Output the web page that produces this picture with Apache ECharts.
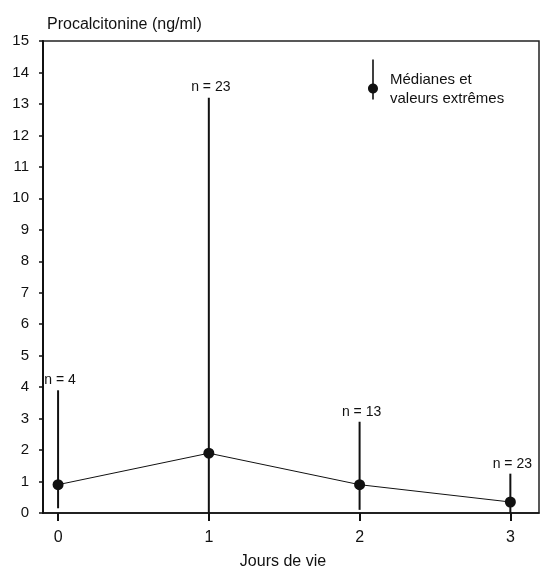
<!DOCTYPE html>
<html>
<head>
<meta charset="utf-8">
<script src="https://cdn.jsdelivr.net/npm/echarts@6/dist/echarts.min.js"></script>
<style>
  html, body { margin: 0; padding: 0; background: #fff; }
  #main { width: 541px; height: 571px; }
</style>
</head>
<body>
<div id="main"></div>
<script>
// Jours de vie et valeurs
const days = [0, 1, 2, 3];
const medians = [0.9, 1.9, 0.9, 0.35];
const minVals = [0.15, 0, 0.1, 0];
const maxVals = [3.9, 13.2, 2.9, 1.25];
const nLabels = ['n = 4', 'n = 23', 'n = 13', 'n = 23'];
const legendName = 'Médianes et\nvaleurs extrêmes';

const chart = echarts.init(document.getElementById('main'));

const font = 'Liberation Sans, Arial, sans-serif';

// barres médiane / extrêmes
const rangeData = days.map((d, i) => [d, minVals[i], maxVals[i]]);
const medianData = days.map((d, i) => [d, medians[i]]);

const option = {
  animation: false,
  textStyle: { fontFamily: font, color: '#111' },
  title: [
    {
      text: 'Procalcitonine (ng/ml)',
      left: 42, top: 12,
      textStyle: { fontSize: 16, fontWeight: 'normal', color: '#111', fontFamily: font }
    },
    {
      text: 'Jours de vie',
      left: 278, top: 549, textAlign: 'center',
      textStyle: { fontSize: 16, fontWeight: 'normal', color: '#111', fontFamily: font }
    }
  ],
  legend: {
    left: 368, top: 51, padding: 0,
    itemWidth: 10, itemHeight: 40,
    data: [{
      name: legendName,
      icon: 'path://M4.2,0L5.8,0L5.8,40L4.2,40Z M0,29C0,26.24 2.24,24 5,24C7.76,24 10,26.24 10,29C10,31.76 7.76,34 5,34C2.24,34 0,31.76 0,29Z'
    }],
    formatter: function (name) { return ' \n' + name; },
    textStyle: { fontSize: 15, lineHeight: 19, color: '#111', padding: [0, 0, 0, 7], fontFamily: font }
  },
  grid: {
    left: 43, right: 2, top: 41, bottom: 58,
    show: true, borderColor: '#222', borderWidth: 1.5
  },
  xAxis: {
    type: 'value',
    min: -0.1, max: 3.19,
    splitLine: { show: false },
    axisLine: { show: true, lineStyle: { color: '#111', width: 1.5 } },
    axisTick: { show: true, customValues: days, length: 8, lineStyle: { color: '#111', width: 2 } },
    axisLabel: { customValues: days, fontSize: 16, margin: 17, color: '#111' }
  },
  yAxis: {
    type: 'value',
    min: 0, max: 15, interval: 1,
    splitLine: { show: false },
    axisLine: { show: true, onZero: false, lineStyle: { color: '#111', width: 2 } },
    axisTick: { show: true, length: 4, lineStyle: { color: '#111', width: 1.5 } },
    axisLabel: { fontSize: 15, margin: 14, color: '#111' }
  },
  series: [
    {
      type: 'custom',
      name: 'range',
      data: rangeData,
      z: 2,
      renderItem: function (params, api) {
        const x = api.value(0);
        const top = api.coord([x, api.value(2)]);
        const bot = api.coord([x, api.value(1)]);
        return {
          type: 'group',
          children: [
            {
              type: 'line',
              shape: { x1: top[0], y1: top[1], x2: bot[0], y2: bot[1] },
              style: { stroke: '#111', lineWidth: 2 }
            },
            {
              type: 'text',
              x: top[0] + 2, y: top[1] - 3,
              style: {
                text: nLabels[params.dataIndex],
                fontSize: 14, fontFamily: font, fill: '#111',
                align: 'center', verticalAlign: 'bottom'
              }
            }
          ]
        };
      }
    },
    {
      type: 'line',
      name: legendName,
      data: medianData,
      z: 3,
      symbol: 'circle',
      symbolSize: 11,
      itemStyle: { color: '#111' },
      lineStyle: { color: '#111', width: 1 }
    }
  ]
};

chart.setOption(option);
</script>
</body>
</html>
